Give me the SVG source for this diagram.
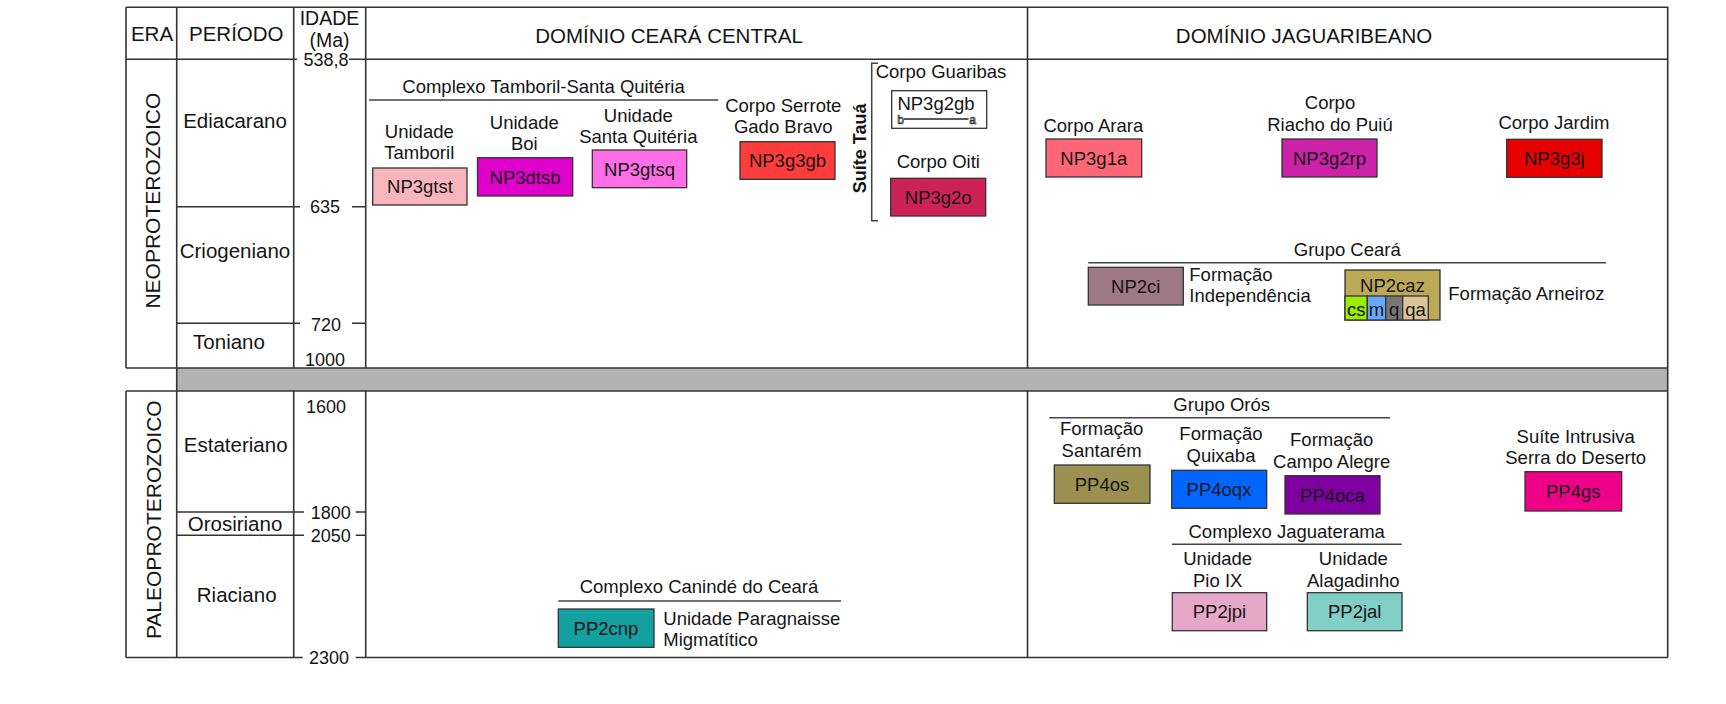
<svg xmlns="http://www.w3.org/2000/svg" width="1726" height="704" viewBox="0 0 1726 704">
<style>
text{font-family:"Liberation Sans",Arial,sans-serif;fill:#151515}
.h{font-size:20.5px;text-anchor:middle}
.era{font-size:21px;text-anchor:middle}
.p{font-size:20.5px;text-anchor:middle}
.a{font-size:18px;text-anchor:middle}
.l{font-size:18.5px;text-anchor:middle}
.ls{font-size:18.5px;text-anchor:start}
.b{font-size:18.5px;text-anchor:middle}
.grid{stroke:#333;stroke-width:1.6;fill:none}
.gl{stroke:#444;stroke-width:1.5;fill:none}
.box{stroke:#333;stroke-width:1.3}
</style>
<rect width="1726" height="704" fill="#fff"/>
<g id="grid">
<rect x="176.7" y="368" width="1491" height="23" fill="#b3b3b3" stroke="none"/>
<path class="grid" d="M126,7.3H1667.7V657.5 M126,7.3V368 M126,391V657.5 M176.7,7.3V657.5 M293.7,7.3V368 M293.7,391V657.5 M365.7,7.3V368 M365.7,391V657.5 M1027.5,7.3V368 M1027.5,391V657.5 M126,59.3H297 M349,59.3H1667.7 M126,368H1667.7 M126,391H1667.7 M126,657.5H302.7 M355.7,657.5H1667.7 M176.7,206.7H300 M352,206.7H365.7 M176.7,323.3H300 M352,323.3H365.7 M176.7,512H304 M355.7,512H365.7 M176.7,535.3H304 M355.7,535.3H365.7"/>
</g>
<g id="headers">
<text class="h" x="152" y="40.7">ERA</text>
<text class="h" x="236.3" y="40.7">PERÍODO</text>
<text x="329.5" y="25.2" style="font-size:19.5px;text-anchor:middle">IDADE</text>
<text x="329.5" y="47" style="font-size:19.5px;text-anchor:middle">(Ma)</text>
<text class="h" x="669" y="42.7">DOMÍNIO CEARÁ CENTRAL</text>
<text class="h" x="1304" y="42.7">DOMÍNIO JAGUARIBEANO</text>
</g>
<g id="eras">
<text class="era" transform="translate(160,200.7) rotate(-90)">NEOPROTEROZOICO</text>
<text class="era" transform="translate(160.5,519.7) rotate(-90)">PALEOPROTEROZOICO</text>
</g>
<g id="periods">
<text class="p" x="235" y="128.3">Ediacarano</text>
<text class="p" x="235" y="258.3">Criogeniano</text>
<text class="p" x="229" y="349.3">Toniano</text>
<text class="p" x="235.7" y="451.7">Estateriano</text>
<text class="p" x="235" y="530.7">Orosiriano</text>
<text class="p" x="236.7" y="601.7">Riaciano</text>
</g>
<g id="ages">
<text class="a" x="326" y="66">538,8</text>
<text class="a" x="325" y="213.3">635</text>
<text class="a" x="326" y="330.5">720</text>
<text class="a" x="325" y="366">1000</text>
<text class="a" x="326" y="412.7">1600</text>
<text class="a" x="330.7" y="518.7">1800</text>
<text class="a" x="330.7" y="542">2050</text>
<text class="a" x="329" y="664">2300</text>
</g>
<g id="connectors">
<path class="gl" d="M369,100H718.3 M1088.3,262.7H1606 M558.3,601H841 M1049.3,417.7H1390 M1172,544.3H1401.7 M878,63.3H871.7V220.7H878"/>
</g>
<g id="complexo-tamboril">
<text class="l" x="543.5" y="92.7">Complexo Tamboril-Santa Quitéria</text>
</g>
<g id="NP3gtst">
<text class="l" x="419.3" y="138.3">Unidade</text>
<text class="l" x="419.3" y="158.8">Tamboril</text>
<rect class="box" x="372.7" y="168" width="94.3" height="37" fill="#f8b6bc"/>
<text class="b" x="420" y="193.3">NP3gtst</text>
</g>
<g id="NP3dtsb">
<text class="l" x="524.3" y="129">Unidade</text>
<text class="l" x="524.3" y="150">Boi</text>
<rect class="box" x="477.5" y="157.7" width="95.2" height="38.3" fill="#e000cc"/>
<text class="b" x="525" y="183.5">NP3dtsb</text>
</g>
<g id="NP3gtsq">
<text class="l" x="638.3" y="121.7">Unidade</text>
<text class="l" x="638.3" y="142.7">Santa Quitéria</text>
<rect class="box" x="592.3" y="150" width="94.4" height="37.7" fill="#ff6ee6"/>
<text class="b" x="639.5" y="175.5">NP3gtsq</text>
</g>
<g id="NP3g3gb">
<text class="l" x="783.3" y="111.7">Corpo Serrote</text>
<text class="l" x="783.3" y="132.7">Gado Bravo</text>
<rect class="box" x="740" y="141.7" width="95" height="37.6" fill="#ff3c3c"/>
<text class="b" x="787.5" y="167">NP3g3gb</text>
</g>
<g id="suite-taua">
<text transform="translate(865.5,148.3) rotate(-90)" style="font-size:18px;font-weight:bold;text-anchor:middle">Suíte Tauá</text>
</g>
<g id="NP3g2gb">
<text class="l" x="941" y="78.3">Corpo Guaribas</text>
<rect class="box" x="891.7" y="90.7" width="95" height="37.6" fill="#fff"/>
<text class="b" x="936" y="110">NP3g2gb</text>
<line x1="904" y1="119" x2="968.5" y2="119" stroke="#222" stroke-width="1.4"/>
<text x="900.5" y="123.5" style="font-size:12px;text-anchor:middle;fill:#fff;stroke:#222;stroke-width:0.7">b</text>
<text x="972.5" y="123.5" style="font-size:12px;text-anchor:middle;fill:#fff;stroke:#222;stroke-width:0.7">a</text>
</g>
<g id="NP3g2o">
<text class="l" x="938.3" y="168.3">Corpo Oiti</text>
<rect class="box" x="890.7" y="178.3" width="95" height="37.7" fill="#cc2257"/>
<text class="b" x="938.2" y="203.8">NP3g2o</text>
</g>
<g id="NP3g1a">
<text class="l" x="1093.3" y="131.7">Corpo Arara</text>
<rect class="box" x="1046" y="139" width="95.7" height="38" fill="#ff6677"/>
<text class="b" x="1093.8" y="164.6">NP3g1a</text>
</g>
<g id="NP3g2rp">
<text class="l" x="1330" y="109">Corpo</text>
<text class="l" x="1330" y="130.7">Riacho do Puiú</text>
<rect class="box" x="1282" y="139" width="95" height="38" fill="#cc22a8"/>
<text class="b" x="1329.5" y="164.6">NP3g2rp</text>
</g>
<g id="NP3g3j">
<text class="l" x="1554" y="129.3">Corpo Jardim</text>
<rect class="box" x="1506.7" y="139.3" width="95.3" height="38" fill="#e60000"/>
<text class="b" x="1554.3" y="164.8">NP3g3j</text>
</g>
<g id="grupo-ceara">
<text class="l" x="1347.3" y="256">Grupo Ceará</text>
</g>
<g id="NP2ci">
<rect class="box" x="1088.3" y="267.3" width="95" height="37.7" fill="#9e7884"/>
<text class="b" x="1135.8" y="292.8">NP2ci</text>
<text class="ls" x="1189.3" y="280.7">Formação</text>
<text class="ls" x="1189.3" y="301.7">Independência</text>
</g>
<g id="NP2caz">
<rect class="box" x="1345" y="270" width="95" height="50" fill="#bba957"/>
<text class="b" x="1392.5" y="291.7">NP2caz</text>
<rect class="box" x="1345" y="296" width="22.3" height="24" fill="#99ee00"/>
<rect class="box" x="1367.3" y="296" width="18.4" height="24" fill="#66aaff"/>
<rect class="box" x="1385.7" y="296" width="17" height="24" fill="#777"/>
<rect class="box" x="1402.7" y="296" width="25.6" height="24" fill="#dcc49a"/>
<text class="b" x="1356.2" y="315.5">cs</text>
<text class="b" x="1376.5" y="315.5">m</text>
<text class="b" x="1394.2" y="315.5">q</text>
<text class="b" x="1415.5" y="315.5">qa</text>
<text class="ls" x="1448.3" y="300">Formação Arneiroz</text>
</g>
<g id="complexo-caninde">
<text class="l" x="699" y="593.3">Complexo Canindé do Ceará</text>
</g>
<g id="PP2cnp">
<rect class="box" x="558.3" y="609" width="95.7" height="38.3" fill="#12a0a0"/>
<text class="b" x="606" y="634.7">PP2cnp</text>
<text class="ls" x="663.3" y="625">Unidade Paragnaisse</text>
<text class="ls" x="663.3" y="646">Migmatítico</text>
</g>
<g id="grupo-oros">
<text class="l" x="1221.7" y="410.7">Grupo Orós</text>
</g>
<g id="PP4os">
<text class="l" x="1101.7" y="435">Formação</text>
<text class="l" x="1101.7" y="456.7">Santarém</text>
<rect class="box" x="1054.3" y="465" width="95.7" height="38.3" fill="#9b904f"/>
<text class="b" x="1102" y="490.7">PP4os</text>
</g>
<g id="PP4oqx">
<text class="l" x="1221" y="440">Formação</text>
<text class="l" x="1221" y="461.7">Quixaba</text>
<rect class="box" x="1171.7" y="470.3" width="95" height="38" fill="#0066ff"/>
<text class="b" x="1219" y="495.9">PP4oqx</text>
</g>
<g id="PP4oca">
<text class="l" x="1331.7" y="446">Formação</text>
<text class="l" x="1331.7" y="467.7">Campo Alegre</text>
<rect class="box" x="1285" y="475.7" width="95" height="38.3" fill="#7f00a0"/>
<text class="b" x="1332.5" y="501.5">PP4oca</text>
</g>
<g id="complexo-jaguaterama">
<text class="l" x="1286.7" y="537.7">Complexo Jaguaterama</text>
</g>
<g id="PP2jpi">
<text class="l" x="1217.7" y="565">Unidade</text>
<text class="l" x="1217.7" y="586.7">Pio IX</text>
<rect class="box" x="1172.3" y="592.7" width="94.4" height="38" fill="#e6a8c9"/>
<text class="b" x="1219.5" y="618.3">PP2jpi</text>
</g>
<g id="PP2jal">
<text class="l" x="1353.3" y="565">Unidade</text>
<text class="l" x="1353.3" y="586.7">Alagadinho</text>
<rect class="box" x="1307.3" y="592.7" width="94.7" height="38" fill="#80d0c8"/>
<text class="b" x="1354.7" y="618.3">PP2jal</text>
</g>
<g id="PP4gs">
<text class="l" x="1575.7" y="443.3">Suíte Intrusiva</text>
<text class="l" x="1575.7" y="464">Serra do Deserto</text>
<rect class="box" x="1525" y="471.7" width="96.7" height="39.3" fill="#ee0088"/>
<text class="b" x="1573.3" y="497.9">PP4gs</text>
</g>
</svg>
